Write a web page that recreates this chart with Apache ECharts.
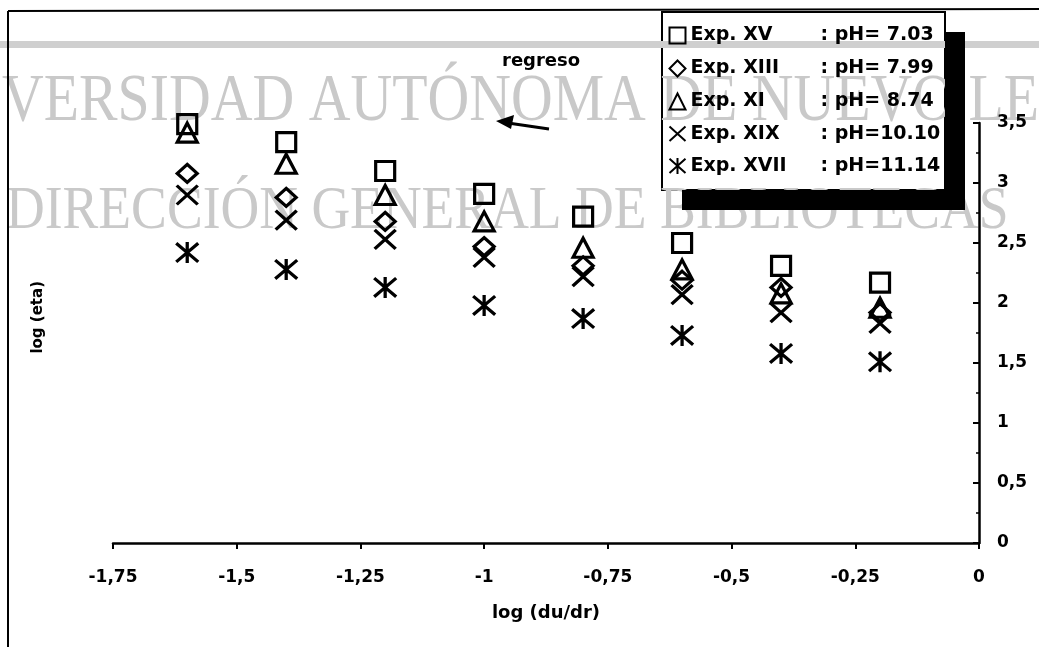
<!DOCTYPE html>
<html>
<head>
<meta charset="utf-8">
<script src="https://cdn.jsdelivr.net/npm/echarts@6/dist/echarts.min.js"></script>
<style>
html,body{margin:0;padding:0;background:#fff;}
#chart{width:1039px;height:647px;}
</style>
</head>
<body>
<div id="chart"></div>
<script>
// log (du/dr) values of each column of points
var xVals = [-1.6, -1.4, -1.2, -1.0, -0.8, -0.6, -0.4, -0.2];
// log (eta) per experiment
var expXV   = [3.49, 3.34, 3.10, 2.91, 2.72, 2.50, 2.31, 2.17];
var expXIII = [3.08, 2.88, 2.68, 2.47, 2.31, 2.19, 2.13, 1.92];
var expXI   = [3.42, 3.16, 2.90, 2.68, 2.46, 2.28, 2.08, 1.96];
var expXIX  = [2.90, 2.69, 2.53, 2.38, 2.22, 2.07, 1.92, 1.83];
var expXVII = [2.42, 2.28, 2.13, 1.98, 1.87, 1.73, 1.58, 1.51];

var names = ['Exp. XV', 'Exp. XIII', 'Exp. XI', 'Exp. XIX', 'Exp. XVII'];
var phLabels = ['pH= 7.03', 'pH= 7.99', 'pH= 8.74', 'pH=10.10', 'pH=11.14'];

var chart = echarts.init(document.getElementById('chart'));

function pairs(ys) {
    var out = [];
    for (var i = 0; i < xVals.length; i++) out.push([xVals[i], ys[i]]);
    return out;
}
function comma(v) {
    return String(v).replace('.', ',');
}

var crossPath = 'path://M0,0L20,18M20,0L0,18';
var starPath = 'path://M1,1L19,17M19,1L1,17M10,0L10,18';

var font = '"DejaVu Sans", Verdana, sans-serif';
var markStyle = {color: 'none', borderColor: '#000', borderWidth: 3.2, opacity: 1};

function sym(name, data, symbol, size) {
    return {
        name: name,
        type: 'scatter',
        data: pairs(data),
        symbol: symbol,
        symbolSize: size,
        itemStyle: markStyle,
        z: 5
    };
}

var option = {
    backgroundColor: '#fff',
    animation: false,
    textStyle: {fontFamily: font},
    grid: {left: 113, right: 60, top: 123, bottom: 104},
    legend: {
        orient: 'vertical',
        left: 667,
        top: 25,
        padding: 0,
        itemGap: 12,
        itemWidth: 16,
        itemHeight: 16,
        data: names,
        formatter: function (n) {
            return '{a|' + n + '}{b|: ' + phLabels[names.indexOf(n)] + '}';
        },
        textStyle: {
            rich: {
                a: {width: 130, fontSize: 19, fontWeight: 'bold', fontFamily: font, color: '#000'},
                b: {fontSize: 19, fontWeight: 'bold', fontFamily: font, color: '#000'}
            }
        },
        z: 10
    },
    xAxis: {
        type: 'value',
        z: 5,
        min: -1.75,
        max: 0,
        interval: 0.25,
        name: 'log (du/dr)',
        nameLocation: 'middle',
        nameGap: 61,
        nameTextStyle: {fontSize: 18, fontWeight: 'bold', color: '#000', fontFamily: font},
        axisLine: {lineStyle: {color: '#000', width: 2.5}},
        axisTick: {length: 6, lineStyle: {color: '#000', width: 2}},
        axisLabel: {
            margin: 26, fontSize: 17, fontWeight: 'bold', color: '#000', fontFamily: font,
            formatter: function (v) { return comma(v); }
        },
        splitLine: {show: false}
    },
    yAxis: {
        type: 'value',
        z: 5,
        position: 'right',
        min: 0,
        max: 3.5,
        interval: 0.5,
        axisLine: {show: true, lineStyle: {color: '#000', width: 2.5}},
        axisTick: {show: true, inside: true, length: 6, lineStyle: {color: '#000', width: 2}},
        minorTick: {show: true, splitNumber: 2, length: 3, lineStyle: {color: '#000', width: 1.5}},
        axisLabel: {
            margin: 18, fontSize: 17, fontWeight: 'bold', color: '#000', fontFamily: font,
            formatter: function (v) { return comma(v); }
        },
        splitLine: {show: false}
    },
    graphic: [
        // legend box (white), under the scan watermark
        {type: 'rect', z: 1, shape: {x: 662, y: 12, width: 283, height: 178},
            style: {fill: '#fff', stroke: '#000', lineWidth: 2}},
        // scan watermark
        {type: 'rect', left: 0, top: 41, z: 2, shape: {width: 1039, height: 7}, style: {fill: '#cfcfcf'}},
        {type: 'text', left: 2, top: 68, z: 2, scaleX: 0.85,
            style: {text: 'VERSIDAD AUTÓNOMA DE NUEVO LE', fontSize: 68, fontFamily: '"Liberation Serif", serif', fill: '#c9c9c9'}},
        {type: 'text', left: 6, top: 181, z: 2, scaleX: 0.865,
            style: {text: 'DIRECCIÓN GENERAL DE BIBLIOTECAS', fontSize: 62, fontFamily: '"Liberation Serif", serif', fill: '#c9c9c9'}},
        // legend drop shadow
        {type: 'rect', z: 4, shape: {x: 945, y: 32, width: 20, height: 178}, style: {fill: '#000'}},
        {type: 'rect', z: 4, shape: {x: 682, y: 190, width: 283, height: 20}, style: {fill: '#000'}},
        // frame
        {type: 'line', z: 4, shape: {x1: 8, y1: 11, x2: 1039, y2: 9}, style: {stroke: '#000', lineWidth: 2}},
        {type: 'line', z: 4, shape: {x1: 8, y1: 11, x2: 8, y2: 647}, style: {stroke: '#000', lineWidth: 2}},
        // y axis title on the left
        {type: 'text', left: 31, top: 281, rotation: Math.PI / 2, z: 4,
            style: {text: 'log (eta)', fontSize: 15, fontWeight: 'bold', fontFamily: font, fill: '#000'}},
        // annotation
        {type: 'text', left: 502, top: 52, z: 4,
            style: {text: 'regreso', fontSize: 18, fontWeight: 'bold', fontFamily: font, fill: '#000'}},
        {type: 'line', z: 4, shape: {x1: 549, y1: 129, x2: 508, y2: 123}, style: {stroke: '#000', lineWidth: 3}},
        {type: 'polygon', z: 4, shape: {points: [[496, 121], [514, 115], [511, 129]]}, style: {fill: '#000'}}
    ],
    series: [
        sym(names[0], expXV, 'rect', 19),
        sym(names[1], expXIII, 'diamond', [20, 18]),
        sym(names[2], expXI, 'triangle', [20, 19]),
        sym(names[3], expXIX, crossPath, [21, 19]),
        sym(names[4], expXVII, starPath, [22, 21])
    ]
};

chart.setOption(option);
</script>
</body>
</html>
